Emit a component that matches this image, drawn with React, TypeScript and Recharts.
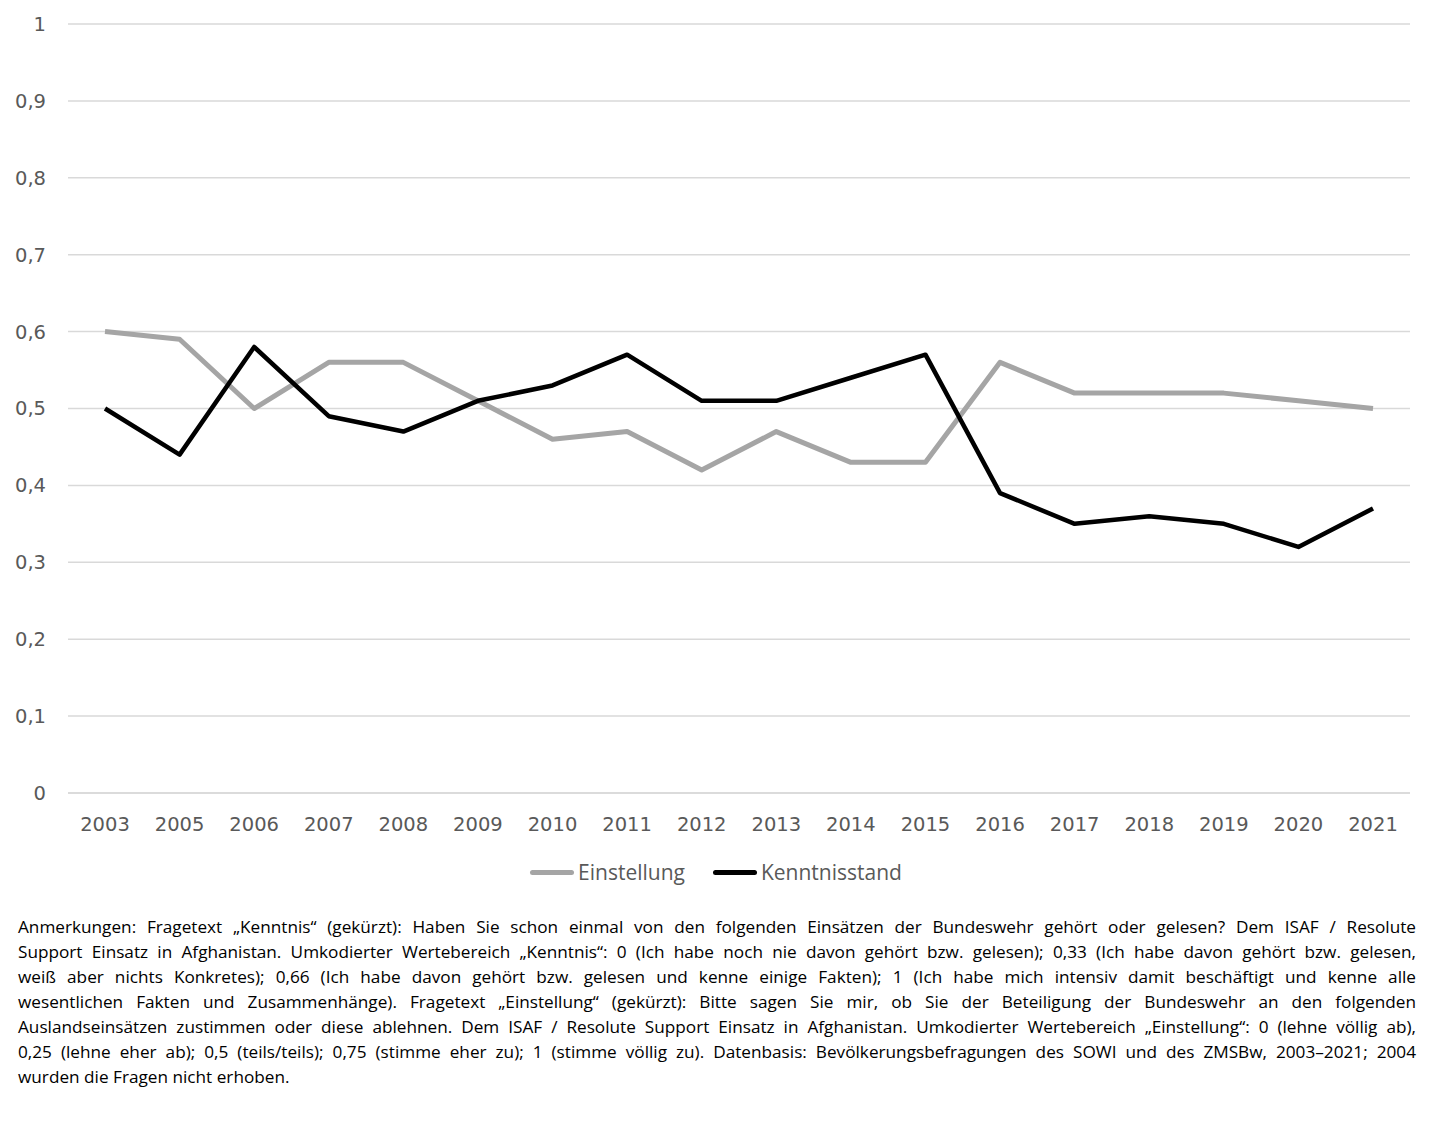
import { LineChart, Line, XAxis, YAxis, CartesianGrid, Legend } from "recharts";

const YEARS = ["2003", "2005", "2006", "2007", "2008", "2009", "2010", "2011", "2012", "2013", "2014", "2015", "2016", "2017", "2018", "2019", "2020", "2021"];
const EINSTELLUNG = [0.6, 0.59, 0.5, 0.56, 0.56, 0.51, 0.46, 0.47, 0.42, 0.47, 0.43, 0.43, 0.56, 0.52, 0.52, 0.52, 0.51, 0.5];
const KENNTNISSTAND = [0.5, 0.44, 0.58, 0.49, 0.47, 0.51, 0.53, 0.57, 0.51, 0.51, 0.54, 0.57, 0.39, 0.35, 0.36, 0.35, 0.32, 0.37];
const Y_TICKS = [0, 0.1, 0.2, 0.3, 0.4, 0.5, 0.6, 0.7, 0.8, 0.9, 1];

const NOTE_LINES = [
  "Anmerkungen: Fragetext „Kenntnis“ (gekürzt): Haben Sie schon einmal von den folgenden Einsätzen der Bundeswehr gehört oder gelesen? Dem ISAF / Resolute",
  "Support Einsatz in Afghanistan. Umkodierter Wertebereich „Kenntnis“: 0 (Ich habe noch nie davon gehört bzw. gelesen); 0,33 (Ich habe davon gehört bzw. gelesen,",
  "weiß aber nichts Konkretes); 0,66 (Ich habe davon gehört bzw. gelesen und kenne einige Fakten); 1 (Ich habe mich intensiv damit beschäftigt und kenne alle",
  "wesentlichen Fakten und Zusammenhänge). Fragetext „Einstellung“ (gekürzt): Bitte sagen Sie mir, ob Sie der Beteiligung der Bundeswehr an den folgenden",
  "Auslandseinsätzen zustimmen oder diese ablehnen. Dem ISAF / Resolute Support Einsatz in Afghanistan. Umkodierter Wertebereich „Einstellung“: 0 (lehne völlig ab),",
  "0,25 (lehne eher ab); 0,5 (teils/teils); 0,75 (stimme eher zu); 1 (stimme völlig zu). Datenbasis: Bevölkerungsbefragungen des SOWI und des ZMSBw, 2003–2021; 2004",
  "wurden die Fragen nicht erhoben.",
];

const data = YEARS.map((year, i) => ({ year, einstellung: EINSTELLUNG[i], kenntnis: KENNTNISSTAND[i] }));

const FONT = "'DejaVu Sans', sans-serif";
const fmt = (v: number) => String(v).replace(".", ",");

function LegendContent({ payload }: any) {
  return (
    <div style={{ display: "flex", justifyContent: "center", gap: 28, fontFamily: "'Open Sans', sans-serif", fontSize: 21, color: "#595959" }}>
      {(payload || []).map((p: any) => (
        <div key={p.value} style={{ display: "flex", alignItems: "center" }}>
          <span style={{ display: "inline-block", width: 44, height: 5, borderRadius: 3, background: p.color, marginRight: 4 }} />
          <span>{p.value}</span>
        </div>
      ))}
    </div>
  );
}

export default function App() {
  return (
    <div style={{ position: "relative", width: 1432, height: 1124, background: "#fff" }}>
      <style>{`body{margin:0}`}</style>
      <LineChart width={1432} height={900} data={data} margin={{ top: 24, right: 22, left: 0, bottom: 19 }}>
        <CartesianGrid vertical={false} stroke="#D9D9D9" strokeWidth={1.5} />
        <XAxis
          dataKey="year"
          axisLine={{ stroke: "#D9D9D9", strokeWidth: 1.5 }}
          tickLine={false}
          tickSize={0}
          tickMargin={24}
          height={60}
          interval={0}
          padding={{ left: 37, right: 37 }}
          tick={{ fill: "#595959", fontSize: 19.5, fontFamily: FONT }}
        />
        <YAxis
          domain={[0, 1]}
          ticks={Y_TICKS}
          tickFormatter={fmt}
          axisLine={false}
          tickLine={false}
          tickSize={0}
          tickMargin={22}
          width={68}
          tick={{ fill: "#595959", fontSize: 19.5, fontFamily: FONT }}
        />
        <Legend
          verticalAlign="bottom"
          wrapperStyle={{ left: 0, width: 1432, top: 858 }}
          content={<LegendContent />}
        />
        <Line dataKey="einstellung" name="Einstellung" stroke="#A5A5A5" strokeWidth={5} dot={false} strokeLinejoin="round" isAnimationActive={false} />
        <Line dataKey="kenntnis" name="Kenntnisstand" stroke="#000000" strokeWidth={4.5} dot={false} strokeLinejoin="round" isAnimationActive={false} />
      </LineChart>
      <div
        style={{
          position: "absolute",
          left: 18,
          top: 914,
          width: 1398,
          fontFamily: "'Open Sans', sans-serif",
          fontSize: 17.2,
          lineHeight: "25px",
          color: "#000",
        }}
      >
        {NOTE_LINES.map((line, i) => (
          <div
            key={i}
            style={{
              whiteSpace: "nowrap",
              textAlign: i < NOTE_LINES.length - 1 ? "justify" : "left",
              textAlignLast: i < NOTE_LINES.length - 1 ? "justify" : "left",
            }}
          >
            {line}
          </div>
        ))}
      </div>
    </div>
  );
}
